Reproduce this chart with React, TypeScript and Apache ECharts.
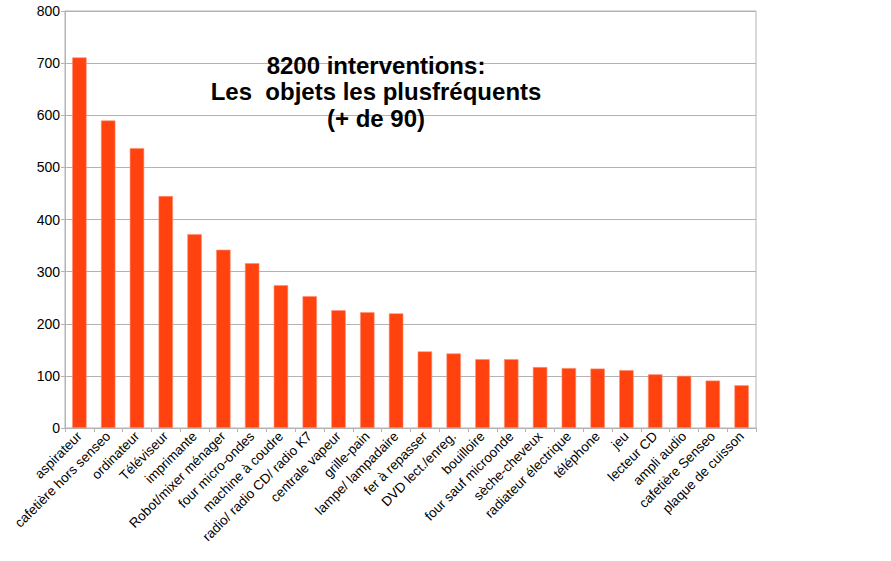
import React, { useEffect, useRef } from "react";
import * as echarts from "echarts";

const categories = [
  "aspirateur",
  "cafetière hors senseo",
  "ordinateur",
  "Téléviseur",
  "imprimante",
  "Robot/mixer ménager",
  "four micro-ondes",
  "machine à coudre",
  "radio/ radio CD/ radio K7",
  "centrale vapeur",
  "grille-pain",
  "lampe/ lampadaire",
  "fer à repasser",
  "DVD lect./enreg.",
  "bouilloire",
  "four sauf microonde",
  "sèche-cheveux",
  "radiateur électrique",
  "téléphone",
  "jeu",
  "lecteur CD",
  "ampli audio",
  "cafetière Senseo",
  "plaque de cuisson",
];

const values = [
  711, 590, 537, 445, 372, 342, 316, 274, 253, 226, 222, 220, 147, 143, 132,
  132, 117, 115, 114, 111, 103, 100, 91, 82,
];

const yTicks = { min: 0, max: 800, interval: 100 };

const titleText = "8200 interventions:\nLes  objets les plusfréquents\n(+ de 90)";

export default function App() {
  const ref = useRef<HTMLDivElement>(null);
  useEffect(() => {
    if (!ref.current) return;
    const chart = echarts.init(ref.current, undefined, { renderer: "svg" });
    const font = "'Liberation Sans', Arial, sans-serif";
    chart.setOption({
      animation: false,
      backgroundColor: "#ffffff",
      textStyle: { fontFamily: font },
      grid: {
        left: 65,
        right: 135,
        top: 11,
        bottom: 133,
        show: true,
        borderColor: "#b3b3b3",
        borderWidth: 1,
        containLabel: false,
      },
      graphic: [
        {
          type: "text",
          x: 376,
          y: 52,
          z: 100,
          style: {
            text: titleText,
            fontFamily: font,
            fontWeight: "bold",
            fontSize: 24,
            lineHeight: 26.5,
            fill: "#000000",
            textAlign: "center",
            textVerticalAlign: "top",
          },
        },
      ],
      xAxis: {
        type: "category",
        data: categories,
        axisLine: { show: true, lineStyle: { color: "#b3b3b3" } },
        axisTick: {
          show: true,
          alignWithLabel: false,
          length: 4,
          lineStyle: { color: "#b3b3b3" },
        },
        axisLabel: {
          rotate: 45,
          interval: 0,
          fontSize: 13.5,
          color: "#000000",
          fontFamily: font,
          margin: 6,
        },
        splitLine: { show: false },
      },
      yAxis: {
        type: "value",
        min: yTicks.min,
        max: yTicks.max,
        interval: yTicks.interval,
        axisLine: { show: true, lineStyle: { color: "#b3b3b3" } },
        axisTick: { show: true, length: 4, lineStyle: { color: "#b3b3b3" } },
        axisLabel: {
          fontSize: 14,
          color: "#000000",
          fontFamily: font,
          margin: 5,
        },
        splitLine: { show: true, lineStyle: { color: "#b3b3b3", width: 1 } },
      },
      series: [
        {
          type: "bar",
          data: values,
          barWidth: "50%",
          itemStyle: {
            color: "#ff420e",
            borderColor: "#ff8f73",
            borderWidth: 0.6,
          },
        },
      ],
    });
    return () => chart.dispose();
  }, []);
  return (
    <div
      ref={ref}
      style={{ position: "fixed", left: 0, top: 0, width: 891, height: 561 }}
    />
  );
}
